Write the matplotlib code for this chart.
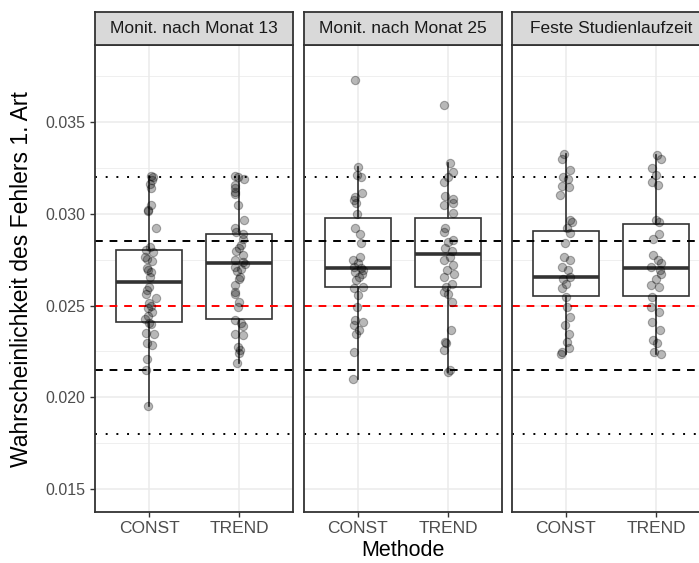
import matplotlib
matplotlib.use("Agg")
import matplotlib.pyplot as plt
import numpy as np

plt.rcParams['font.family'] = ['Liberation Sans', 'DejaVu Sans']

panels = ["Monit. nach Monat 13", "Monit. nach Monat 25", "Feste Studienlaufzeit"]
methods = ["CONST", "TREND"]

# jittered points (values) per panel / method
p1_const = [0.03205, 0.03198, 0.03183, 0.03161, 0.03143, 0.03049, 0.03023, 0.03016, 0.0292,
            0.0282, 0.02805, 0.02792, 0.02765, 0.02756, 0.02743, 0.02702, 0.02693, 0.02683,
            0.02653, 0.02602, 0.02587, 0.02562, 0.0254, 0.02511, 0.025, 0.02484, 0.02466,
            0.02442, 0.02424, 0.02406, 0.02398, 0.02351, 0.02344, 0.02293, 0.02286, 0.02206,
            0.02151, 0.0195]
p1_trend = [0.03205, 0.03201, 0.03192, 0.03156, 0.03143, 0.03119, 0.03107, 0.03047, 0.02965,
            0.0292, 0.02901, 0.02889, 0.02865, 0.02829, 0.02811, 0.02798, 0.02774, 0.02747,
            0.02738, 0.02725, 0.02711, 0.027, 0.02689, 0.02656, 0.02645, 0.02611, 0.02574,
            0.02565, 0.0252, 0.02493, 0.0242, 0.02402, 0.02391, 0.02347, 0.02337, 0.02275,
            0.02257, 0.02242, 0.02184]
p2_const = [0.03728, 0.03256, 0.0321, 0.03201, 0.03114, 0.03092, 0.03074, 0.03056, 0.03001,
            0.0292, 0.02892, 0.02838, 0.02765, 0.02747, 0.02729, 0.02711, 0.02702, 0.02693,
            0.02684, 0.02674, 0.02656, 0.02638, 0.02602, 0.02593, 0.02556, 0.02493, 0.0242,
            0.02411, 0.02393, 0.02366, 0.02347, 0.02247, 0.02102]
p2_trend = [0.03595, 0.03274, 0.03228, 0.03201, 0.03174, 0.03096, 0.03083, 0.03059, 0.03047,
            0.03005, 0.0292, 0.02901, 0.02856, 0.02847, 0.02811, 0.02798, 0.02765, 0.02747,
            0.0272, 0.02693, 0.02674, 0.02656, 0.02618, 0.02602, 0.02574, 0.02565, 0.0252,
            0.02366, 0.02302, 0.02293, 0.02257, 0.02148, 0.02139]
p3_const = [0.03328, 0.03301, 0.03241, 0.03201, 0.03192, 0.0315, 0.03147, 0.03101, 0.02965,
            0.02956, 0.0292, 0.02896, 0.02838, 0.02765, 0.02747, 0.02711, 0.02693, 0.02656,
            0.02647, 0.02618, 0.02593, 0.02547, 0.02493, 0.02438, 0.02393, 0.02347, 0.02302,
            0.02266, 0.02248, 0.02238]
p3_trend = [0.03319, 0.03301, 0.03247, 0.0321, 0.03174, 0.03156, 0.02965, 0.02956, 0.02892,
            0.02865, 0.02774, 0.02747, 0.02729, 0.02711, 0.02693, 0.02674, 0.02647, 0.02611,
            0.02602, 0.02547, 0.02493, 0.02466, 0.02411, 0.02366, 0.02311, 0.02293, 0.02248,
            0.02238]

# horizontal jitter offsets (category units)
jit_p1_const = [0.02, 0.04, 0.03, 0.01, 0.02, 0.02, -0.01, -0.01, 0.08, 0.01, -0.03, 0.04, -0.05,
                -0.02, 0.03, -0.02, -0.01, 0.02, 0.01, 0.00, -0.02, -0.03, 0.08, 0.00, 0.02,
                -0.01, 0.03, -0.01, -0.04, 0.00, 0.02, -0.03, 0.05, -0.02, 0.03, -0.02, -0.03,
                -0.01]
jit_p1_trend = [-0.04, -0.01, 0.06, -0.05, -0.04, -0.05, -0.04, -0.01, 0.06, -0.04, -0.03, 0.05,
                0.05, 0.02, 0.00, -0.03, 0.04, -0.05, 0.04, 0.07, -0.04, 0.02, -0.02, 0.01,
                0.00, -0.05, -0.05, -0.04, 0.00, -0.01, -0.04, 0.02, 0.05, -0.04, 0.05, -0.01,
                0.01, 0.00, -0.02]
jit_p2_const = [-0.03, 0.00, -0.01, 0.03, 0.04, -0.03, -0.04, -0.02, -0.01, -0.03, 0.02, 0.03,
                0.02, -0.06, 0.00, -0.05, 0.03, 0.05, -0.03, 0.04, 0.01, -0.02, 0.05, -0.05,
                0.00, -0.01, -0.03, 0.05, -0.04, 0.01, -0.02, -0.04, -0.06]
jit_p2_trend = [-0.04, 0.02, 0.05, 0.00, -0.04, -0.03, 0.06, 0.05, -0.04, 0.05, -0.03, -0.04,
                0.06, 0.00, -0.03, 0.04, 0.02, -0.04, 0.06, -0.01, 0.07, -0.05, 0.04, -0.02,
                -0.04, 0.00, 0.04, 0.03, -0.03, -0.02, -0.05, 0.02, 0.00]
jit_p3_const = [-0.02, -0.05, 0.04, -0.03, 0.02, -0.05, 0.03, -0.07, 0.04, 0.07, 0.01, 0.04,
                -0.01, -0.02, 0.04, -0.04, 0.02, 0.04, -0.03, 0.00, -0.04, 0.00, 0.01, 0.04,
                -0.01, 0.03, 0.01, 0.03, -0.05, -0.06]
jit_p3_trend = [0.01, 0.05, -0.04, 0.00, -0.04, 0.02, 0.00, 0.03, 0.03, -0.03, -0.03, 0.02,
                0.05, -0.06, 0.04, 0.06, 0.00, -0.06, 0.03, -0.05, -0.06, 0.03, -0.04, 0.04,
                -0.03, 0.01, -0.02, 0.06]

points = [[p1_const, p1_trend], [p2_const, p2_trend], [p3_const, p3_trend]]
jitters = [[jit_p1_const, jit_p1_trend], [jit_p2_const, jit_p2_trend], [jit_p3_const, jit_p3_trend]]

# box statistics: (whislo, q1, median, q3, whishi)
box_whislo = [[0.0195, 0.02184], [0.02102, 0.02139], [0.02238, 0.02238]]
box_q1 = [[0.02411, 0.02426], [0.02602, 0.02602], [0.02551, 0.02551]]
box_med = [[0.02627, 0.02729], [0.02702, 0.02778], [0.02653, 0.02702]]
box_q3 = [[0.02803, 0.02892], [0.02978, 0.02978], [0.02905, 0.02943]]
box_whishi = [[0.03205, 0.03205], [0.03256, 0.03274], [0.03328, 0.03319]]

ref_red = [0.025]
ref_dashed = [0.0215, 0.0285]
ref_dotted = [0.018, 0.032]

yticks = [0.015, 0.020, 0.025, 0.030, 0.035]
yminor = [0.0175, 0.0225, 0.0275, 0.0325, 0.0375]

W, H = 699, 563
fig = plt.figure(figsize=(W / 100, H / 100), dpi=100)

panel_lefts = [95, 304, 512]
pw = 198
ptop, pbot = 45, 512
strip_top = 12

dark = "#333333"
for i, name in enumerate(panels):
    ax = fig.add_axes([panel_lefts[i] / W, (H - pbot) / H, pw / W, (pbot - ptop) / H])
    ax.set_xlim(0.4, 2.6)
    ax.set_ylim(0.013747, 0.039196)
    ax.set_facecolor("white")
    # grid
    for y in yticks:
        ax.axhline(y, color="#EBEBEB", lw=1.1, zorder=0)
    for y in yminor:
        ax.axhline(y, color="#EBEBEB", lw=0.55, zorder=0)
    for xc in [1, 2]:
        ax.axvline(xc, color="#EBEBEB", lw=1.1, zorder=0)
    # boxplots
    stats = []
    for j in range(2):
        stats.append(dict(whislo=box_whislo[i][j], q1=box_q1[i][j], med=box_med[i][j],
                          q3=box_q3[i][j], whishi=box_whishi[i][j], fliers=[]))
    ax.bxp(stats, positions=[1, 2], widths=0.74, showfliers=False, showcaps=False,
           patch_artist=True,
           boxprops=dict(facecolor="white", edgecolor=dark, linewidth=1.2),
           whiskerprops=dict(color=dark, linewidth=1.2),
           medianprops=dict(color=dark, linewidth=2.6, solid_capstyle="butt"),
           zorder=2)
    # reference lines
    for y in ref_dashed:
        ax.axhline(y, color="black", lw=1.4, ls=(0, (4, 3.5)), zorder=3)
    for y in ref_dotted:
        ax.axhline(y, color="black", lw=1.4, ls=(0, (1, 4.5)), zorder=3)
    for y in ref_red:
        ax.axhline(y, color="#FF0000", lw=1.4, ls=(0, (4, 3.5)), zorder=3)
    # points
    for j in range(2):
        vals = np.array(points[i][j])
        xs = (j + 1) + np.array(jitters[i][j])
        ax.scatter(xs, vals, s=36, facecolor=(0, 0, 0, 0.28), edgecolor=(0, 0, 0, 0.3),
                   linewidth=0.8, zorder=4)
    ax.set_xticks([1, 2])
    ax.set_xticklabels(methods)
    ax.set_yticks(yticks)
    if i == 0:
        ax.set_yticklabels(["%.3f" % v for v in yticks])
    else:
        ax.tick_params(axis="y", left=False, labelleft=False)
    ax.tick_params(axis="both", colors=dark, labelcolor="#4D4D4D", labelsize=11.5,
                   length=3.5, width=1.0)
    ax.tick_params(axis="x", labelsize=12.5, pad=3)
    for sp in ax.spines.values():
        sp.set_color(dark)
        sp.set_linewidth(1.3)
        sp.set_zorder(6)
    # strip
    sax = fig.add_axes([panel_lefts[i] / W, (H - ptop) / H, pw / W, (ptop - strip_top) / H])
    sax.set_facecolor("#D9D9D9")
    sax.set_xticks([])
    sax.set_yticks([])
    for sp in sax.spines.values():
        sp.set_color(dark)
        sp.set_linewidth(1.3)
    sax.text(0.5, 0.5, name, transform=sax.transAxes, ha="center", va="center",
             fontsize=12.5, color="#1A1A1A")

fig.text(403 / W, 1 - 550 / H, "Methode", ha="center", va="center", fontsize=15.5, color="black")
fig.text(22 / W, 1 - 279 / H, "Wahrscheinlichkeit des Fehlers 1. Art", ha="center", va="center",
         rotation=90, fontsize=16.5, color="black")

fig.savefig("out.png", dpi=100)
